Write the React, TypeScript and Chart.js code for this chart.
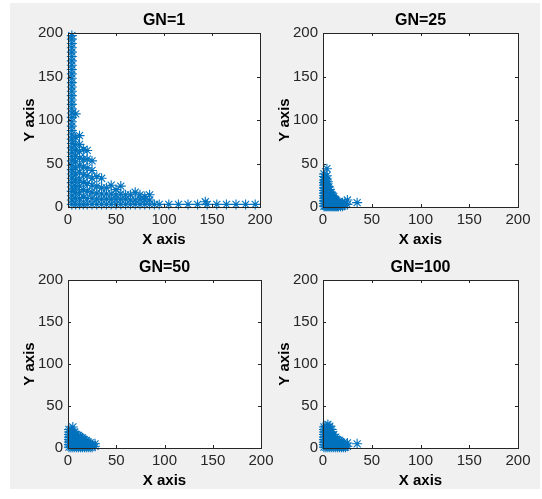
import { useEffect, useRef } from "react";
import { Chart, registerables } from "chart.js";

Chart.register(...registerables);

// ---------- data ----------
const axisTicks = [0, 50, 100, 150, 200];
const panelTitles = ["GN=1", "GN=25", "GN=50", "GN=100"];
const xLabel = "X axis";
const yLabel = "Y axis";

// GN=1 : x positions of columns and the y values in each column
const gn1ColX = [4, 8, 12, 16, 20, 25, 30, 35, 40, 45, 50, 55, 60, 65, 70, 75, 80, 85, 90, 95, 105, 115, 125, 135, 143, 145, 155, 165, 175, 185, 195];
const gn1ColY = [
  [3, 8, 13, 18, 23, 28, 33, 38, 43, 48, 53, 58, 63, 68, 73, 78, 83, 88, 93, 98, 103, 108, 113, 118, 123, 128, 133, 138, 143, 148, 153, 158, 163, 168, 173, 178, 183, 188, 193, 197],
  [3, 10, 17, 24, 31, 38, 45, 52, 58, 65, 72, 80, 107],
  [3, 10, 17, 24, 31, 40, 48, 56, 64, 72, 82],
  [3, 11, 20, 28, 37, 46, 55, 66],
  [3, 10, 18, 27, 36, 45, 55, 65],
  [3, 10, 17, 25, 33, 42, 53],
  [3, 9, 16, 24, 35],
  [3, 9, 15, 22, 33],
  [3, 9, 15, 22],
  [3, 9, 15, 25],
  [3, 9, 14, 20],
  [3, 9, 15, 24],
  [3, 9, 14],
  [3, 8, 14],
  [3, 8, 17],
  [3, 9, 14],
  [3, 8, 12],
  [3, 8, 14],
  [3],
  [3],
  [3],
  [3],
  [3],
  [3],
  [6],
  [3],
  [3],
  [3],
  [3],
  [3],
  [3],
];

// GN=25
const gn25ColX = [1, 2, 3, 4, 5, 6, 7, 8, 9, 10, 11, 12, 13, 14, 15, 16, 18, 20, 22, 25, 35];
const gn25ColY = [
  [1, 4, 7, 10, 13, 16, 19, 22, 25, 28, 31, 35, 38],
  [1, 4, 7, 10, 13, 16, 19, 22, 26, 30, 34],
  [1, 4, 7, 10, 13, 17, 21, 25, 29],
  [1, 3, 6, 9, 12, 15, 18, 22, 26, 31, 36, 44],
  [1, 3, 6, 9, 12, 16, 20, 24, 29],
  [1, 3, 6, 9, 12, 15, 19, 23],
  [1, 3, 6, 9, 12, 16, 20],
  [1, 3, 5, 8, 11, 14, 17],
  [1, 3, 5, 8, 11, 14],
  [1, 3, 5, 7, 10, 13],
  [1, 3, 5, 7, 9, 12],
  [1, 3, 5, 7, 9],
  [1, 3, 5, 8],
  [1, 3, 5, 7],
  [1, 3, 5],
  [1, 3, 6],
  [1, 3, 4],
  [1, 3, 5],
  [2, 4],
  [3, 8],
  [5],
];

// GN=50
const gn50ColX = [1, 3, 5, 7, 9, 11, 13, 15, 17, 19, 21, 23, 25, 28];
const gn50ColY = [
  [1, 4, 7, 10, 13, 16, 19, 22],
  [1, 4, 7, 10, 13, 16, 19, 22],
  [1, 4, 7, 10, 13, 16, 19, 25],
  [1, 4, 7, 10, 13, 16, 19],
  [1, 4, 7, 10, 13, 16],
  [1, 4, 7, 10, 13, 15],
  [1, 4, 7, 10, 13],
  [1, 4, 7, 10, 12],
  [1, 4, 7, 10],
  [1, 4, 7, 9],
  [1, 4, 7],
  [1, 4, 6],
  [1, 4],
  [2, 5],
];

// GN=100
const gn100ColX = [1, 3, 5, 7, 9, 11, 13, 15, 17, 19, 21, 23, 25, 35];
const gn100ColY = [
  [1, 4, 7, 10, 13, 16, 19, 22, 25],
  [1, 4, 7, 10, 13, 16, 19, 22, 26],
  [1, 4, 7, 10, 13, 16, 19, 22, 25, 28],
  [1, 4, 7, 10, 13, 16, 19, 22, 26],
  [1, 4, 7, 10, 13, 16, 19, 22],
  [1, 4, 7, 10, 13, 16],
  [1, 4, 7, 10, 13],
  [1, 4, 7, 10],
  [1, 4, 7, 9],
  [1, 4, 7],
  [1, 3, 6],
  [1, 4],
  [2, 6],
  [5],
];

// ---------- styling ----------
const FONT = "'Liberation Sans', Arial, Helvetica, sans-serif";
const MARKER = "#0072BD";
const AXIS = "#262626";

type Rect = { left: number; top: number; width: number; height: number };

const panelRects: Rect[] = [
  { left: 68, top: 33, width: 192, height: 174 },
  { left: 323, top: 33, width: 195, height: 174 },
  { left: 68, top: 280, width: 193, height: 168 },
  { left: 323, top: 280, width: 195, height: 168 },
];

const PAD_L = 60;
const PAD_T = 30;
const PAD_R = 20;
const PAD_B = 42;

function toPoints(colX: number[], colY: number[][]) {
  const pts: { x: number; y: number }[] = [];
  colX.forEach((x, i) => {
    colY[i].forEach((y) => pts.push({ x, y }));
  });
  return pts;
}

const boxPlugin = {
  id: "matlabBox",
  beforeDatasetsDraw(chart: any) {
    const { ctx, chartArea: a } = chart;
    ctx.save();
    ctx.fillStyle = "#ffffff";
    ctx.fillRect(a.left, a.top, a.right - a.left, a.bottom - a.top);
    ctx.restore();
  },
  afterDraw(chart: any) {
    const { ctx, chartArea: a, scales } = chart;
    ctx.save();
    ctx.strokeStyle = AXIS;
    ctx.lineWidth = 1;
    ctx.strokeRect(Math.round(a.left) + 0.5, Math.round(a.top) + 0.5, Math.round(a.right - a.left), Math.round(a.bottom - a.top));
    const tl = 3;
    ctx.beginPath();
    axisTicks.forEach((v) => {
      const px = Math.round(scales.x.getPixelForValue(v)) + 0.5;
      ctx.moveTo(px, a.bottom);
      ctx.lineTo(px, a.bottom - tl);
      ctx.moveTo(px, a.top);
      ctx.lineTo(px, a.top + tl);
      const py = Math.round(scales.y.getPixelForValue(v)) + 0.5;
      ctx.moveTo(a.left, py);
      ctx.lineTo(a.left + tl, py);
      ctx.moveTo(a.right, py);
      ctx.lineTo(a.right - tl, py);
    });
    ctx.stroke();
    ctx.restore();
  },
};

function Panel({ title, colX, colY, rect }: { title: string; colX: number[]; colY: number[][]; rect: Rect }) {
  const ref = useRef<HTMLCanvasElement | null>(null);
  useEffect(() => {
    if (!ref.current) return;
    const tickFont = { family: FONT, size: 15 };
    const labelFont = { family: FONT, size: 15, weight: "bold" as const, lineHeight: "15px" };
    const chart = new Chart(ref.current, {
      type: "scatter",
      data: {
        datasets: [
          {
            data: toPoints(colX, colY),
            pointStyle: "star",
            radius: 5,
            borderWidth: 1.1,
            borderColor: MARKER,
            backgroundColor: MARKER,
            clip: false as any,
          },
        ],
      },
      options: {
        animation: false,
        responsive: false,
        maintainAspectRatio: false,
        events: [],
        layout: { padding: { top: 10, right: PAD_R, bottom: 0, left: 0 } },
        plugins: {
          legend: { display: false },
          tooltip: { enabled: false },
          title: {
            display: true,
            fullSize: false,
            text: title,
            color: "#000000",
            font: { family: FONT, size: 16, weight: "bold", lineHeight: "16px" },
            padding: { top: 0, bottom: 4 },
          },
        },
        scales: {
          x: {
            type: "linear",
            min: 0,
            max: 200,
            afterFit: (s: any) => {
              s.height = PAD_B;
            },
            afterBuildTicks: (s: any) => {
              s.ticks = axisTicks.map((v) => ({ value: v }));
            },
            grid: { display: false, drawTicks: false },
            border: { display: false },
            ticks: { padding: 4, font: tickFont, color: AXIS, maxRotation: 0, autoSkip: false },
            title: { display: true, text: xLabel, color: "#000000", font: labelFont, padding: { top: 0, bottom: 2 } },
          },
          y: {
            type: "linear",
            min: 0,
            max: 200,
            afterFit: (s: any) => {
              s.width = PAD_L;
            },
            afterBuildTicks: (s: any) => {
              s.ticks = axisTicks.map((v) => ({ value: v }));
            },
            grid: { display: false, drawTicks: false },
            border: { display: false },
            ticks: { padding: 5, font: tickFont, color: AXIS, autoSkip: false },
            title: { display: true, text: yLabel, color: "#000000", font: labelFont, padding: { top: 14, bottom: 0 } },
          },
        },
      },
      plugins: [boxPlugin],
    });
    return () => chart.destroy();
  }, [title, colX, colY, rect]);

  const w = rect.width + PAD_L + PAD_R;
  const h = rect.height + PAD_T + PAD_B;
  return (
    <canvas
      ref={ref}
      width={w}
      height={h}
      style={{ position: "absolute", left: rect.left - PAD_L, top: rect.top - PAD_T, width: w, height: h }}
    />
  );
}

export default function App() {
  const cols: [number[], number[][]][] = [
    [gn1ColX, gn1ColY],
    [gn25ColX, gn25ColY],
    [gn50ColX, gn50ColY],
    [gn100ColX, gn100ColY],
  ];
  return (
    <div style={{ position: "fixed", left: 0, top: 0, width: 542, height: 499, background: "#ffffff", overflow: "hidden" }}>
      <div style={{ position: "absolute", left: 10, top: 3, width: 530, height: 486, background: "#f0f0f0" }} />
      {panelTitles.map((t, i) => (
        <Panel key={t} title={t} colX={cols[i][0]} colY={cols[i][1]} rect={panelRects[i]} />
      ))}
    </div>
  );
}
